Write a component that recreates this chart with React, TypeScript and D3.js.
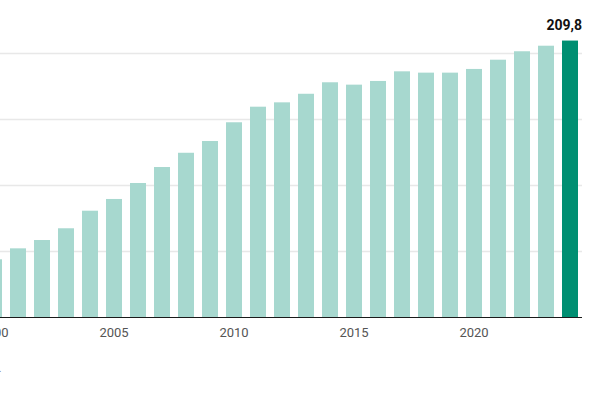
import React from "react";
import * as d3 from "d3";

const years: number[] = [
  2000, 2001, 2002, 2003, 2004, 2005, 2006, 2007, 2008, 2009, 2010, 2011, 2012,
  2013, 2014, 2015, 2016, 2017, 2018, 2019, 2020, 2021, 2022, 2023, 2024,
];
const values: number[] = [
  44.1, 52.4, 58.7, 67.6, 80.9, 89.8, 101.9, 114.0, 124.8, 133.7, 147.9, 159.7,
  163.0, 169.5, 178.2, 176.4, 179.2, 186.5, 185.5, 185.5, 188.3, 195.3, 201.7,
  205.9, 209.8,
];
const gridValues: number[] = [50, 100, 150, 200];
const tickYears: number[] = [2000, 2005, 2010, 2015, 2020];
const highlightLabel = "209,8";
const sourceNote = "Quelle: Statistisches Bundesamt.";

const W = 600;
const H = 400;

export default function App() {
  const x = d3
    .scaleBand<number>()
    .domain(years)
    .range([-18, 582])
    .paddingInner(1 / 3)
    .paddingOuter(1 / 6);
  const y = d3.scaleLinear().domain([0, 200]).range([317.5, 53.5]);
  const last = years[years.length - 1];
  const [xl, xr] = x.range();

  return (
    <svg
      width={W}
      height={H}
      style={{ position: "fixed", left: 0, top: 0, background: "#fff" }}
      fontFamily="Roboto, 'Noto Sans', sans-serif"
    >
      {gridValues.map((g) => (
        <line
          key={g}
          x1={xl}
          x2={xr}
          y1={y(g)}
          y2={y(g)}
          stroke="#e8e8e8"
          strokeWidth={1.5}
        />
      ))}
      {years.map((yr, i) => (
        <rect
          key={yr}
          x={x(yr)}
          y={y(values[i])}
          width={x.bandwidth()}
          height={y(0) - y(values[i])}
          fill={yr === last ? "#008f72" : "#a7d8cf"}
        />
      ))}
      <line x1={xl} x2={xr} y1={y(0)} y2={y(0)} stroke="#1a1a1a" strokeWidth={1.2} />
      {tickYears.map((t) => (
        <text
          key={t}
          x={(x(t) as number) + x.bandwidth() / 2}
          y={337.3}
          textAnchor="middle"
          fontSize={13}
          fill="#555"
        >
          {t}
        </text>
      ))}
      <text
        x={xr}
        y={y(values[values.length - 1]) - 10.5}
        textAnchor="end"
        fontSize={14}
        fontWeight="bold"
        fill="#111"
      >
        {highlightLabel}
      </text>
      <text x={1.5} y={372} textAnchor="end" fontSize={10} fill="#777">
        {sourceNote}
      </text>
    </svg>
  );
}
